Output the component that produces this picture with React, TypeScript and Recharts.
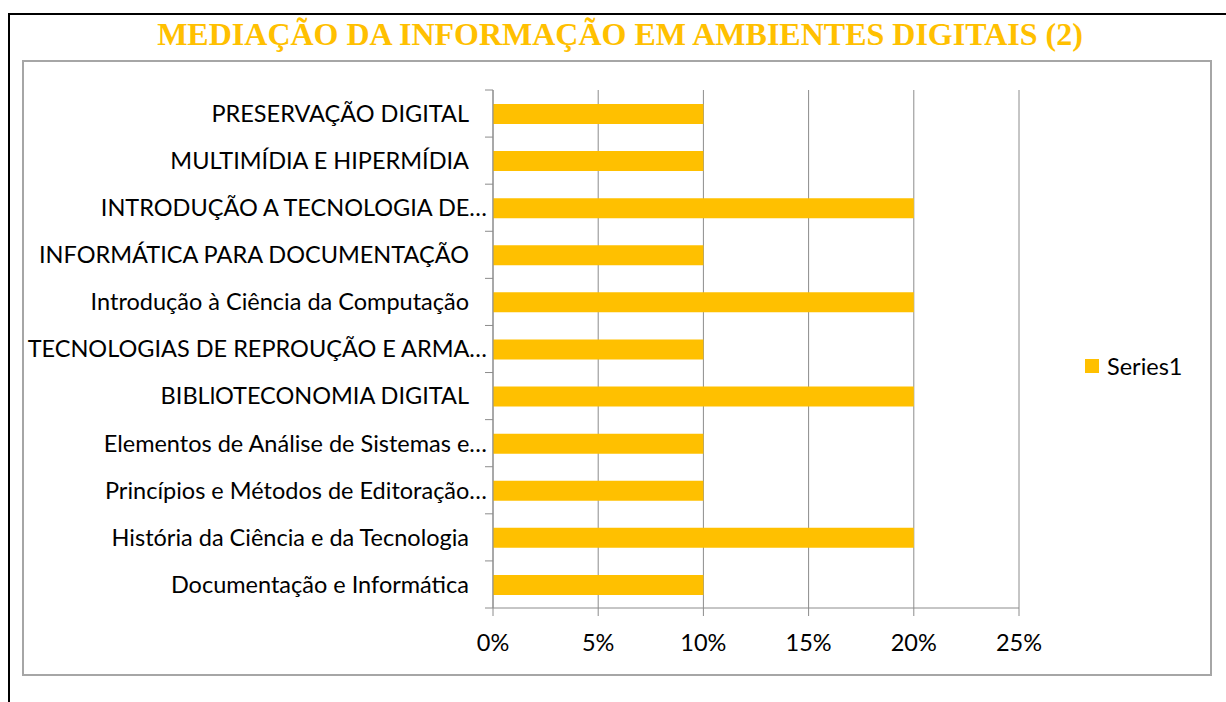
import { BarChart, Bar, XAxis, YAxis, CartesianGrid, Legend } from 'recharts';

const chartTitle = 'MEDIAÇÃO DA INFORMAÇÃO EM AMBIENTES DIGITAIS (2)';
const seriesName = 'Series1';

// top to bottom, as in the picture
const categories = [
  'PRESERVAÇÃO DIGITAL',
  'MULTIMÍDIA E HIPERMÍDIA',
  'INTRODUÇÃO A TECNOLOGIA DE…',
  'INFORMÁTICA PARA DOCUMENTAÇÃO',
  'Introdução à Ciência da Computação',
  'TECNOLOGIAS DE REPROUÇÃO E ARMA…',
  'BIBLlOTECONOMIA DIGITAL',
  'Elementos de Análise de Sistemas e…',
  'Princípios e Métodos de Editoração…',
  'História da Ciência e da Tecnologia',
  'Documentação e Informática',
];
const values = [0.1, 0.1, 0.2, 0.1, 0.2, 0.1, 0.2, 0.1, 0.1, 0.2, 0.1];
const xTicks = [0, 0.05, 0.1, 0.15, 0.2, 0.25];

const data = categories.map((name, i) => ({ name, value: values[i] }));

const BAR_COLOR = '#FFC000';
const AXIS_COLOR = '#8C8C8C';
const FONT = 'Lato, "Liberation Sans", sans-serif';
const FONT_SIZE = 23.5;

const PLOT_TOP = 90;
const PLOT_BOTTOM = 608;
const band = (PLOT_BOTTOM - PLOT_TOP) / categories.length;

const CategoryTick = (props: any) => {
  const { x, y, payload, index } = props;
  const label: string = payload.value;
  // excel keeps a gap after labels that were not cut short
  const endX = label.endsWith('…') ? x + 2 : x - 16;
  return (
    <g>
      <line x1={x} x2={x + 8} y1={y - band / 2} y2={y - band / 2} stroke={AXIS_COLOR} />
      {index === categories.length - 1 && (
        <line x1={x} x2={x + 8} y1={y + band / 2} y2={y + band / 2} stroke={AXIS_COLOR} />
      )}
      <text
        x={endX}
        y={y}
        dy="0.355em"
        textAnchor="end"
        fill="#000"
        fontSize={FONT_SIZE}
        fontFamily={FONT}
      >
        {label}
      </text>
    </g>
  );
};

const LegendContent = () => (
  <div style={{ display: 'flex', alignItems: 'center', fontFamily: FONT, fontSize: FONT_SIZE, color: '#000' }}>
    <span style={{ width: 14, height: 14, background: BAR_COLOR, marginRight: 8, display: 'inline-block' }} />
    <span>{seriesName}</span>
  </div>
);

export default function App() {
  return (
    <div style={{ position: 'absolute', left: 0, top: 0, width: 1226, height: 702, background: '#fff' }}>
      <div style={{ position: 'absolute', left: 8, top: 13, right: 0, bottom: 0, borderLeft: '2px solid #000', borderTop: '2px solid #000' }} />
      <div
        style={{
          position: 'absolute',
          left: 22,
          top: 60,
          width: 1190,
          height: 616,
          boxSizing: 'border-box',
          border: '2px solid #A6A6A6',
        }}
      />
      <div
        style={{
          position: 'absolute',
          left: 0,
          width: 1240,
          top: 14,
          textAlign: 'center',
          fontFamily: '"Liberation Serif", "Times New Roman", serif',
          fontWeight: 'bold',
          fontSize: 32,
          lineHeight: '40px',
          color: BAR_COLOR,
        }}
      >
        {chartTitle}
      </div>
      <div style={{ position: 'absolute', left: 0, top: 0 }}>
        <BarChart
          width={1226}
          height={702}
          data={data}
          layout="vertical"
          margin={{ top: PLOT_TOP, right: 207, bottom: 0, left: 0 }}
        >
          <CartesianGrid horizontal={false} stroke={AXIS_COLOR} />
          <XAxis
            type="number"
            domain={[0, 0.25]}
            ticks={xTicks}
            interval={0}
            tickFormatter={(v: number) => `${Math.round(v * 100)}%`}
            axisLine={{ stroke: AXIS_COLOR }}
            tickLine={{ stroke: AXIS_COLOR }}
            tickSize={8}
            tickMargin={18}
            height={702 - PLOT_BOTTOM}
            tick={{ fill: '#000', fontSize: FONT_SIZE, fontFamily: FONT }}
          />
          <YAxis
            type="category"
            dataKey="name"
            width={493}
            interval={0}
            tickSize={8}
            tickMargin={0}
            tickLine={false}
            axisLine={{ stroke: AXIS_COLOR }}
            tick={<CategoryTick />}
          />
          <Legend
            layout="horizontal"
            align="center"
            verticalAlign="middle"
            wrapperStyle={{ left: 1085, top: 352, width: 'auto' }}
            content={<LegendContent />}
          />
          <Bar dataKey="value" name={seriesName} fill={BAR_COLOR} barSize={20} isAnimationActive={false} />
        </BarChart>
      </div>
    </div>
  );
}
